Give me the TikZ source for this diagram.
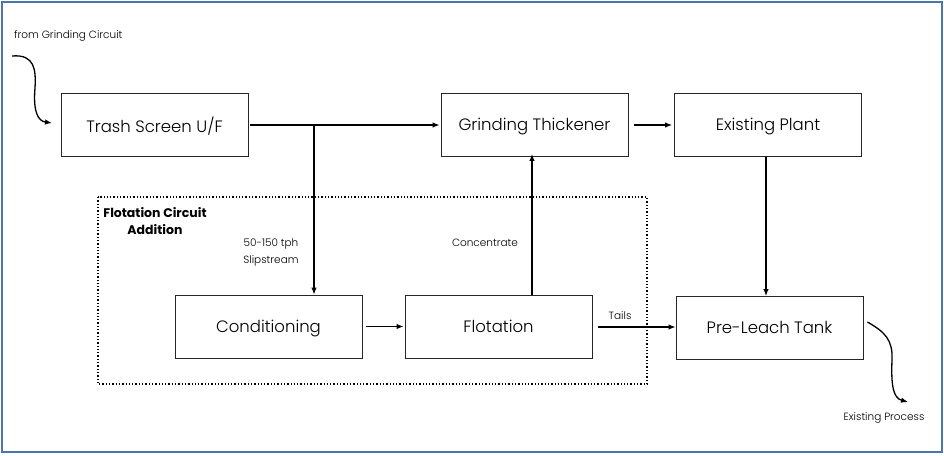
\documentclass[tikz,border=0pt]{standalone}
\usepackage{fontspec}
\IfFontExistsTF{Poppins Light}{\setmainfont{Poppins Light}[BoldFont={Poppins Bold}]}{\setmainfont{Poppins}}
\usetikzlibrary{arrows.meta}
\definecolor{frameblue}{HTML}{4A76A8}
\begin{document}
\begin{tikzpicture}[x=1pt,y=-1pt,
  box/.style={draw=black!85, line width=0.8pt, minimum width=187pt, minimum height=63pt, inner sep=0pt, text depth=1pt, font=\fontsize{16.5}{20}\selectfont},
  flow/.style={-{Latex[length=7pt,width=5.5pt]}, line width=1.3pt},
  lbl/.style={font=\fontsize{10.5}{17}\selectfont, inner sep=0pt, align=center}]
\useasboundingbox (0,0) rectangle (944,455);
\draw[draw=frameblue, line width=2.5pt] (2,2) rectangle (942,452);
\draw[dotted, line width=1.3pt] (98,197) rectangle (647,384);

\node[box] (trash) at (154.5,125) {Trash Screen U/F};
\node[box] (gt) at (534.5,125) {Grinding Thickener};
\node[box] (ep) at (768,125) {Existing Plant};
\node[box] (cond) at (268.5,326.5) {Conditioning};
\node[box] (flot) at (498.5,326.5) {Flotation};
\node[box] (pl) at (769.5,328) {Pre-Leach Tank};

\node[lbl, anchor=west] (from) at (14,36) {from Grinding Circuit};
\node[lbl] (exist) at (884,418) {Existing Process};
\node[lbl] (tails) at (620,316) {Tails};
\node[lbl] (conc) at (485,243) {Concentrate};
\node[lbl] (slip) at (271,252.5) {50-150 tph\\Slipstream};
\node[lbl, font=\fontsize{12.5}{16.5}\selectfont\bfseries] (fca) at (155,221) {Flotation Circuit\\Addition};

\coordinate (split) at (314,125);
\coordinate (fromstart) at (12,56);
\coordinate (exitend) at (908,402);

\draw[flow] ([xshift=2pt]trash.east) -- ([xshift=-1pt]gt.west);
\draw[flow] (split) -- (split |- cond.north);
\draw[flow] ([xshift=6pt]gt.east) -- ([xshift=-2pt]ep.west);
\draw[flow] ([xshift=4pt]cond.east) -- ([xshift=-1pt]flot.west);
\draw[flow] (flot.north -| 532,0) -- ([yshift=3pt]gt.south -| 532,0);
\draw[flow] (ep.south -| 766,0) -- (pl.north -| 766,0);
\draw[flow] ([xshift=6pt]flot.east |- 0,327) -- (pl.west |- 0,327);

\draw[flow] (fromstart) .. controls (35,54) and (36,70) .. (35,88) .. controls (33,112) and (38,121) .. (52,123);
\draw[flow] ([xshift=4pt,yshift=6pt]pl.east) .. controls (885,332) and (893,340) .. (892,360) .. controls (891,385) and (893,398) .. (exitend);
\end{tikzpicture}
\end{document}
